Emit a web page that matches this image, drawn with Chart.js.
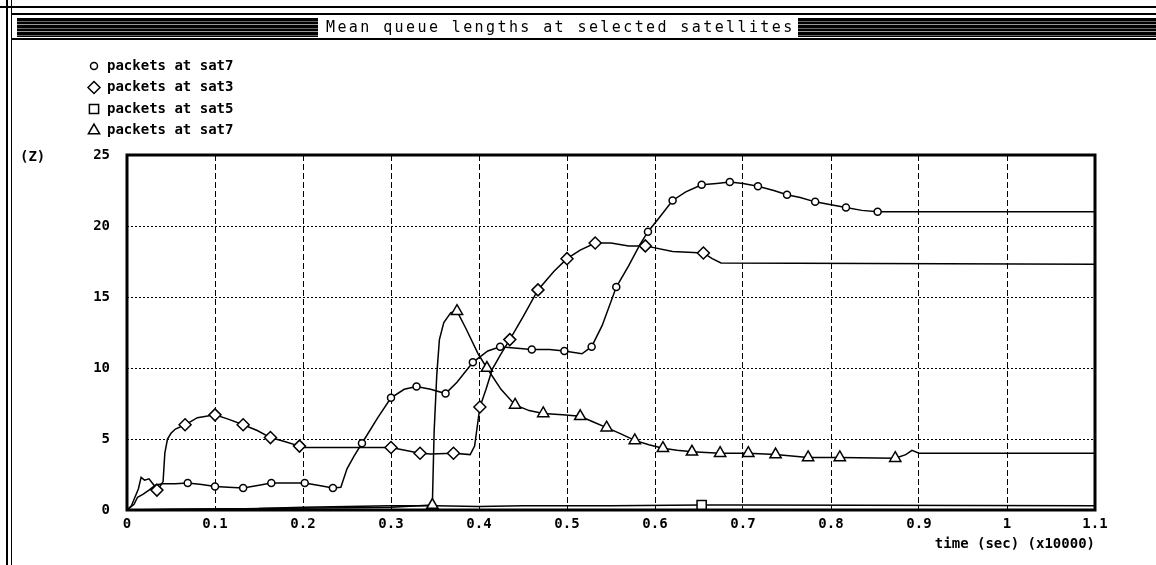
<!DOCTYPE html>
<html>
<head>
<meta charset="utf-8">
<script src="https://cdn.jsdelivr.net/npm/chart.js@4.4.1/dist/chart.umd.min.js"></script>
<style>
  html, body { margin: 0; padding: 0; background: #fff; }
  #page { position: relative; width: 1156px; height: 565px; overflow: hidden; background: #fff; }
  #wrap { position: absolute; left: 0; top: 0; width: 1156px; height: 565px; }
  .rule { position: absolute; background: #000; }
  .bar { position: absolute; top: 18px; height: 19px;
         background: repeating-linear-gradient(to bottom, #000 0 3px, #666 3px 4px, #000 4px 6px, #999 6px 7px); }
  #title { position: absolute; left: 326px; top: 18px; height: 19px; line-height: 19px;
           font: 15px "DejaVu Sans Mono", monospace; letter-spacing: 2.4px; color: #000; white-space: nowrap; }
  #zlabel { position: absolute; left: 20px; top: 148px; font: bold 14px "DejaVu Sans Mono", monospace; color: #000; }
</style>
</head>
<body>
<div id="page">
  <div id="wrap"><canvas id="chart"></canvas></div>
  <div class="rule" style="left:6px;top:0;width:2px;height:565px"></div>
  <div class="rule" style="left:11px;top:0;width:1px;height:565px"></div>
  <div class="rule" style="left:0;top:6px;width:1156px;height:2px"></div>
  <div class="rule" style="left:12px;top:13px;width:1144px;height:2px"></div>
  <div class="rule" style="left:12px;top:38px;width:1144px;height:2px"></div>
  <div class="bar" style="left:17px;width:301px"></div>
  <div class="bar" style="left:798px;width:358px"></div>
  <div id="title">Mean queue lengths at selected satellites</div>
  <div id="zlabel">(Z)</div>
</div>
<script>
// packets at sat7 (circles)
const sat7aT = [0, 0.008, 0.012, 0.018, 0.025, 0.032, 0.04, 0.055, 0.069, 0.085, 0.1, 0.115, 0.132, 0.15, 0.164, 0.185, 0.202, 0.22, 0.234, 0.243, 0.25, 0.258, 0.267, 0.285, 0.3, 0.315, 0.329, 0.345, 0.362, 0.375, 0.393, 0.41, 0.424, 0.44, 0.46, 0.48, 0.497, 0.517, 0.528, 0.54, 0.556, 0.57, 0.583, 0.592, 0.605, 0.62, 0.635, 0.653, 0.67, 0.685, 0.7, 0.717, 0.735, 0.75, 0.765, 0.782, 0.8, 0.817, 0.835, 0.853, 0.875, 0.9, 1.1];
const sat7aV = [0, 0.4, 0.9, 1.1, 1.4, 1.75, 1.85, 1.85, 1.9, 1.8, 1.65, 1.6, 1.55, 1.75, 1.9, 1.9, 1.9, 1.7, 1.55, 1.6, 2.9, 3.8, 4.7, 6.5, 7.9, 8.5, 8.7, 8.5, 8.2, 9.0, 10.4, 11.2, 11.5, 11.4, 11.3, 11.3, 11.2, 11.0, 11.5, 13.0, 15.7, 17.2, 18.7, 19.6, 20.6, 21.8, 22.4, 22.9, 23.0, 23.1, 23.0, 22.8, 22.5, 22.2, 22.0, 21.7, 21.5, 21.3, 21.1, 21.0, 21.0, 21.0, 21.0];
const sat7aMarks = [0.069, 0.1, 0.132, 0.164, 0.202, 0.234, 0.267, 0.3, 0.329, 0.362, 0.393, 0.424, 0.46, 0.497, 0.528, 0.556, 0.592, 0.62, 0.653, 0.685, 0.717, 0.75, 0.782, 0.817, 0.853];

// packets at sat3 (diamonds)
const sat3T = [0, 0.005, 0.009, 0.013, 0.016, 0.02, 0.025, 0.03, 0.034, 0.038, 0.041, 0.043, 0.046, 0.05, 0.055, 0.066, 0.08, 0.1, 0.115, 0.132, 0.148, 0.163, 0.18, 0.196, 0.2, 0.3, 0.333, 0.345, 0.371, 0.39, 0.395, 0.401, 0.408, 0.415, 0.425, 0.435, 0.45, 0.467, 0.485, 0.5, 0.515, 0.532, 0.55, 0.57, 0.589, 0.62, 0.655, 0.665, 0.675, 1.1];
const sat3V = [0, 0.3, 0.9, 1.5, 2.3, 2.1, 2.2, 1.8, 1.4, 1.7, 2.0, 4.0, 5.0, 5.4, 5.7, 6.0, 6.5, 6.7, 6.4, 6.0, 5.6, 5.1, 4.8, 4.5, 4.4, 4.4, 4.0, 3.95, 4.0, 3.9, 4.5, 7.25, 8.5, 9.9, 11.0, 12.0, 13.6, 15.5, 16.8, 17.7, 18.3, 18.8, 18.8, 18.6, 18.6, 18.2, 18.1, 17.7, 17.4, 17.3];
const sat3Marks = [0.034, 0.066, 0.1, 0.132, 0.163, 0.196, 0.3, 0.333, 0.371, 0.401, 0.435, 0.467, 0.5, 0.532, 0.589, 0.655];

// packets at sat5 (squares)
const sat5T = [0, 0.05, 0.15, 0.2, 0.25, 0.3, 0.35, 0.4, 0.45, 0.55, 0.653, 0.7, 1.1];
const sat5V = [0, 0.05, 0.1, 0.2, 0.25, 0.3, 0.3, 0.25, 0.3, 0.3, 0.35, 0.35, 0.3];
const sat5Marks = [0.653];

// packets at sat7 (triangles)
const sat7bT = [0, 0.1, 0.15, 0.25, 0.3, 0.347, 0.349, 0.352, 0.355, 0.36, 0.368, 0.375, 0.385, 0.399, 0.409, 0.425, 0.441, 0.457, 0.473, 0.495, 0.515, 0.53, 0.545, 0.56, 0.577, 0.593, 0.609, 0.625, 0.642, 0.674, 0.706, 0.737, 0.774, 0.81, 0.873, 0.885, 0.892, 0.9, 1.1];
const sat7bV = [0, 0.05, 0.1, 0.15, 0.2, 0.35, 5.5, 9.5, 12.0, 13.2, 13.9, 14.0, 12.8, 11.0, 10.0, 8.5, 7.4, 7.0, 6.8, 6.7, 6.6, 6.2, 5.8, 5.4, 4.9, 4.6, 4.35, 4.2, 4.1, 4.0, 4.0, 3.9, 3.7, 3.7, 3.65, 3.9, 4.2, 4.0, 4.0];
const sat7bMarks = [0.347, 0.375, 0.409, 0.441, 0.473, 0.515, 0.545, 0.577, 0.609, 0.642, 0.674, 0.706, 0.737, 0.774, 0.81, 0.873];

const seriesLabels = ["packets at sat7", "packets at sat3", "packets at sat5", "packets at sat7"];
const xTicks = [0, 0.1, 0.2, 0.3, 0.4, 0.5, 0.6, 0.7, 0.8, 0.9, 1, 1.1];
const yTicks = [0, 5, 10, 15, 20, 25];

function zip(ts, vs) {
  const n = Math.min(ts.length, vs.length);
  const pts = [];
  for (let i = 0; i < n; i++) pts.push({ x: ts[i], y: vs[i] });
  return pts;
}

// marker points are taken from the line itself at the marked times
function marksOf(ts, vs, marks) {
  return marks.map(m => {
    const i = ts.findIndex(t => Math.abs(t - m) < 1e-9);
    return { x: m, y: vs[i] };
  });
}

const markerStyles = [
  { pointStyle: 'circle', radius: 3.5 },
  { pointStyle: 'rectRot', radius: 6 },
  { pointStyle: 'rect', radius: 6.5 },
  { pointStyle: 'triangle', radius: 6.5 },
];

function lineSet(data) {
  return {
    data, showLine: true, pointRadius: 0, borderColor: '#000', borderWidth: 1.5,
    tension: 0, order: 2,
  };
}

function markSet(label, data, style) {
  return {
    label, data, showLine: false, pointStyle: style.pointStyle, pointRadius: style.radius,
    pointBackgroundColor: '#fff', pointBorderColor: '#000', pointBorderWidth: 1.5, order: 1,
  };
}

const lines = [
  zip(sat7aT, sat7aV),
  zip(sat3T, sat3V),
  zip(sat5T, sat5V),
  zip(sat7bT, sat7bV),
];
const marks = [
  marksOf(sat7aT, sat7aV, sat7aMarks),
  marksOf(sat3T, sat3V, sat3Marks),
  marksOf(sat5T, sat5V, sat5Marks),
  marksOf(sat7bT, sat7bV, sat7bMarks),
];

// legend on the left, one row per series, plus the heavy plot frame
const framePlugin = {
  id: 'frameAndLegend',
  afterDraw(chart) {
    const ctx = chart.ctx;
    const a = chart.chartArea;
    ctx.save();
    ctx.strokeStyle = '#000';
    ctx.lineWidth = 3;
    ctx.strokeRect(a.left, a.top, a.right - a.left, a.bottom - a.top);

    ctx.font = 'bold 14px "DejaVu Sans Mono", monospace';
    ctx.textBaseline = 'middle';
    ctx.textAlign = 'left';
    seriesLabels.forEach((label, i) => {
      const y = 66 + i * 21.5;
      ctx.fillStyle = '#fff';
      ctx.strokeStyle = '#000';
      ctx.lineWidth = 1.5;
      Chart.helpers.drawPoint(ctx, { pointStyle: markerStyles[i].pointStyle, radius: markerStyles[i].radius, rotation: 0, borderWidth: 1.5 }, 94, y);
      ctx.fillStyle = '#000';
      ctx.fillText(label, 107, y);
    });
    ctx.restore();
  }
};

Chart.defaults.font.family = '"DejaVu Sans Mono", monospace';
Chart.defaults.font.size = 15;
Chart.defaults.color = '#000';

new Chart(document.getElementById('chart'), {
  type: 'scatter',
  data: {
    datasets: [
      ...lines.map(lineSet),
      ...marks.map((m, i) => markSet(seriesLabels[i], m, markerStyles[i])),
    ]
  },
  options: {
    responsive: true,
    maintainAspectRatio: false,
    animation: false,
    layout: { padding: { top: 155, right: 61, left: 0, bottom: 0 } },
    plugins: { legend: { display: false }, tooltip: { enabled: false } },
    scales: {
      x: {
        type: 'linear', min: 0, max: 1.1,
        afterBuildTicks: scale => { scale.ticks = xTicks.map(v => ({ value: v })); },
        afterFit: scale => { scale.height = 55; },
        ticks: {
          padding: 6,
          font: { weight: 'bold', size: 14 },
          maxRotation: 0,
          callback: v => String(Math.round(v * 10) / 10),
        },
        grid: { color: '#000', lineWidth: 1, drawTicks: false },
        border: { display: false, dash: [6, 3] },
        title: {
          display: true, text: 'time (sec) (x10000)', align: 'end',
          font: { weight: 'bold', size: 14 }, padding: { top: 0, bottom: 12 },
        },
      },
      y: {
        min: 0, max: 25,
        afterBuildTicks: scale => { scale.ticks = yTicks.map(v => ({ value: v })); },
        afterFit: scale => { scale.width = 127; },
        ticks: { padding: 17, font: { weight: 'bold', size: 14 } },
        grid: { color: '#000', lineWidth: 1, drawTicks: false },
        border: { display: false, dash: [2, 2] },
      },
    },
  },
  plugins: [framePlugin],
});
</script>
</body>
</html>
